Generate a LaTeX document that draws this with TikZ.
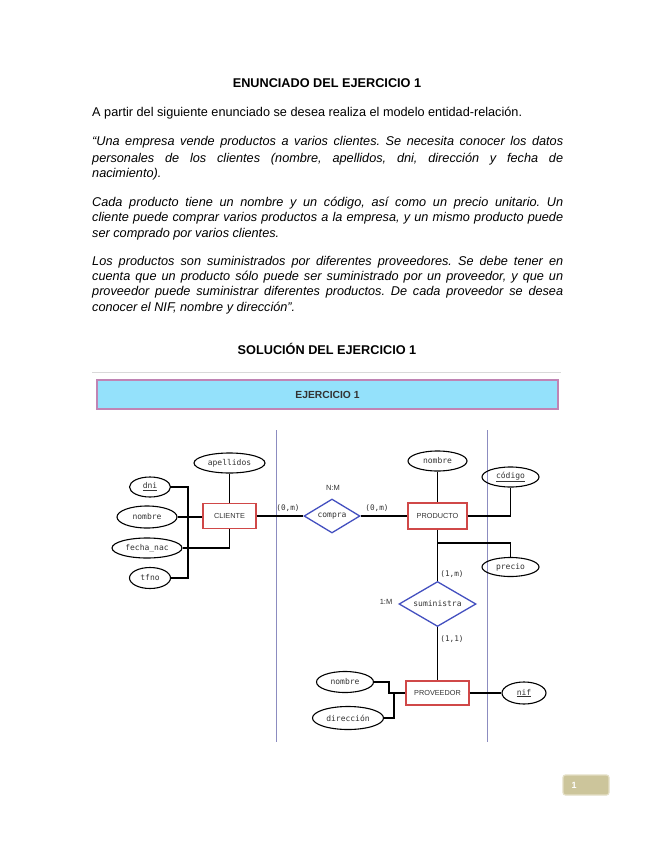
\documentclass[tikz,border=0pt]{standalone}
\usepackage{fontspec}
\setmainfont{Liberation Sans}
\setmonofont{DejaVu Sans Mono}
\usetikzlibrary{shapes.geometric}
\definecolor{entred}{HTML}{D04848}
\definecolor{relblue}{HTML}{4450C0}
\definecolor{vcol}{HTML}{8C8CC0}
\definecolor{hdrfill}{HTML}{94E1FB}
\definecolor{hdrdraw}{HTML}{C084B4}
\definecolor{pgfill}{HTML}{CCC59B}
\definecolor{pgdraw}{HTML}{E4DFC6}
\definecolor{dtext}{HTML}{333333}
\frenchspacing
\newcommand\jline[1]{\makebox[471pt][s]{#1}}
\begin{document}
\begin{tikzpicture}[x=1pt,y=-1pt,
  bodyt/.style={anchor=base west,inner sep=0,font=\fontsize{12.7}{15}\selectfont},
  bodyi/.style={bodyt,font=\fontsize{12.7}{15}\selectfont\itshape},
  titlet/.style={inner sep=0,font=\fontsize{12.7}{15}\selectfont\bfseries},
  attr/.style={ellipse,draw,line width=1.1pt,inner sep=0,text=dtext,font=\ttfamily\fontsize{8}{9}\selectfont},
  ent/.style={rectangle,draw=entred,line width=1.1pt,inner sep=0,text=dtext,font=\fontsize{7.3}{9}\selectfont},
  rel/.style={diamond,draw=relblue,line width=1.3pt,inner sep=0,text=dtext,font=\ttfamily\fontsize{8}{9}\selectfont},
  card/.style={inner sep=0,text=dtext,font=\ttfamily\fontsize{7.7}{9}\selectfont},
  ratio/.style={inner sep=0,text=dtext,font=\fontsize{7.5}{9}\selectfont},
  conn/.style={line width=1.1pt},
  vline/.style={draw=vcol,line width=1pt}
]
\useasboundingbox (0,0) rectangle (655,848);
\fill[white] (0,0) rectangle (655,848);

% text
\node[titlet] (t1) at (327,83) {ENUNCIADO DEL EJERCICIO 1};
\node[bodyt] (p0) at (92,117) {A partir del siguiente enunciado se desea realiza el modelo entidad-relación.};
\node[bodyi] (p1) at (92,146) {\jline{“Una empresa vende productos a varios clientes. Se necesita conocer los datos}};
\node[bodyi] (p2) at (92,162) {\jline{personales de los clientes (nombre, apellidos, dni, dirección y fecha de}};
\node[bodyi] (p3) at (92,177) {nacimiento).};
\node[bodyi] (p4) at (92,206) {\jline{Cada producto tiene un nombre y un código, así como un precio unitario. Un}};
\node[bodyi] (p5) at (92,221) {\jline{cliente puede comprar varios productos a la empresa, y un mismo producto puede}};
\node[bodyi] (p6) at (92,237) {ser comprado por varios clientes.};
\node[bodyi] (p7) at (92,265) {\jline{Los productos son suministrados por diferentes proveedores. Se debe tener en}};
\node[bodyi] (p8) at (92,280) {\jline{cuenta que un producto sólo puede ser suministrado por un proveedor, y que un}};
\node[bodyi] (p9) at (92,295) {\jline{proveedor puede suministrar diferentes productos. De cada proveedor se desea}};
\node[bodyi] (p10) at (92,311) {conocer el NIF, nombre y dirección”.};
\node[titlet] (t2) at (327,349) {SOLUCIÓN DEL EJERCICIO 1};

% header
\draw[black!15,line width=0.8pt] (92,372) -- (561,372);
\node[draw=hdrdraw,fill=hdrfill,line width=1.1pt,minimum width=461pt,minimum height=29pt,inner sep=0,
  text=dtext,font=\fontsize{10.3}{12}\selectfont\bfseries] (hdr) at (327.5,394.5) {EJERCICIO 1};

% vertical separators
\coordinate (v1t) at (276,430); \coordinate (v1b) at (276,742);
\coordinate (v2t) at (487,430); \coordinate (v2b) at (487,742);
\draw[vline] (v1t) -- (v1b);
\draw[vline] (v2t) -- (v2b);

% entities
\node[ent,minimum width=53pt,minimum height=25pt] (cliente) at (229.5,516) {CLIENTE};
\node[ent,minimum width=59pt,minimum height=26pt] (producto) at (437.5,516) {PRODUCTO};
\node[ent,minimum width=63pt,minimum height=24pt] (proveedor) at (437.5,693) {PROVEEDOR};

% relations
\node[rel,aspect=1.65,minimum width=56pt,minimum height=34pt] (compra) at (332,516) {compra};
\node[rel,aspect=1.7,minimum width=77pt,minimum height=45pt] (suministra) at (437.5,604) {suministra};

% attributes
\node[attr,minimum width=71pt,minimum height=20pt] (apellidos) at (229.5,463) {apellidos};
\node[attr,minimum width=41pt,minimum height=20pt] (dni) at (150,487) {\underline{dni}};
\node[attr,minimum width=60pt,minimum height=22pt] (nombreC) at (147,517) {nombre};
\node[attr,minimum width=70pt,minimum height=20pt] (fecha) at (147,548) {fecha\_nac};
\node[attr,minimum width=41pt,minimum height=21pt] (tfno) at (150,578) {tfno};
\node[attr,minimum width=59pt,minimum height=20pt] (nombreP) at (437.5,461) {nombre};
\node[attr,minimum width=57pt,minimum height=20pt] (codigo) at (510.5,477) {\underline{código}};
\node[attr,minimum width=57pt,minimum height=19pt] (precio) at (510.5,567) {precio};
\node[attr,minimum width=57pt,minimum height=21pt] (nombreV) at (345,682) {nombre};
\node[attr,minimum width=71pt,minimum height=23pt] (direccion) at (348,718) {dirección};
\node[attr,minimum width=44pt,minimum height=22pt] (nif) at (524,693) {\underline{nif}};

% labels
\node[card] (c1) at (288,508) {(0,m)};
\node[card] (c2) at (377,508) {(0,m)};
\node[ratio] (r1) at (333,488) {N:M};
\node[card] (c3) at (452,574) {(1,m)};
\node[ratio] (r2) at (386,602) {1:M};
\node[card] (c4) at (452,639) {(1,1)};

% connectors
\coordinate (bus) at (188,517);
\draw[conn] (apellidos.south) -- (apellidos.south |- cliente.north);
\draw[conn] (dni.east) -- (dni.east -| bus) -- (tfno.east -| bus) -- (tfno.east);
\draw[conn] (nombreC.east) -- (cliente.west |- nombreC.east);
\fill (bus) circle (1.3pt);
\draw[conn] (fecha.east) -| (cliente.south);
\draw[conn] (cliente.east) -- (compra.west);
\draw[conn] (compra.east) -- (producto.west);
\draw[conn] (nombreP.south) -- (producto.north);
\draw[conn] (producto.east) -| (codigo.south);
\coordinate (br) at (437.5,543);
\draw[conn] (producto.south) -- (suministra.north);
\draw[conn] (br) -| (precio.north);
\draw[conn] (suministra.south) -- (proveedor.north);
\draw[conn] (proveedor.east) -- (nif.west);
\coordinate (b2) at (389,693);
\coordinate (b3) at (394,693);
\draw[conn] (nombreV.east) -| (b2) -- (proveedor.west);
\draw[conn] (direccion.east) -| (b3);

% page number
\node[draw=pgdraw,fill=pgfill,line width=1.2pt,rounded corners=2.5pt,minimum width=46pt,minimum height=20pt,inner sep=0] (pg) at (586,785) {};
\node[inner sep=0,text=white,font=\fontsize{9}{10}\selectfont\bfseries] (pgn) at (574,785) {1};
\end{tikzpicture}
\end{document}
